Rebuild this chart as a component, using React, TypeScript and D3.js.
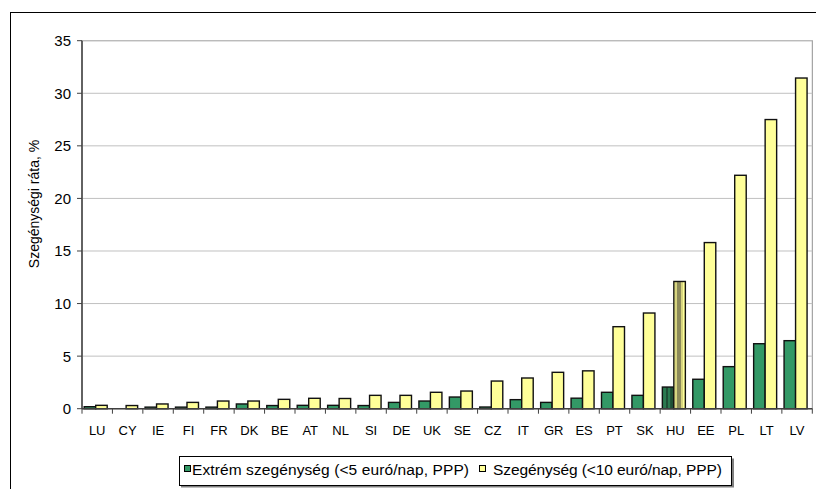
import React from "react";
import * as d3 from "d3";

const countries = ["LU","CY","IE","FI","FR","DK","BE","AT","NL","SI","DE","UK","SE","CZ","IT","GR","ES","PT","SK","HU","EE","PL","LT","LV"];
const extreme = [0.19,0,0.15,0.15,0.15,0.45,0.3,0.32,0.32,0.3,0.6,0.73,1.11,0.16,0.86,0.6,1.0,1.56,1.27,2.06,2.8,4.0,6.18,6.47];
const poverty = [0.32,0.3,0.45,0.6,0.73,0.73,0.89,0.99,0.97,1.27,1.27,1.56,1.68,2.63,2.92,3.46,3.6,7.8,9.1,12.1,15.8,22.2,27.5,31.45];
const yTicks = [0,5,10,15,20,25,30,35];
const seriesNames = ["Extrém szegénység (<5 euró/nap, PPP)", "Szegénység (<10 euró/nap, PPP)"];
const highlight = "HU";

const W = 816, H = 489;
const plot = { left: 82, right: 812.3, top: 40.7, bottom: 408.7 };
const font = "Arial, 'Liberation Sans', sans-serif";
const green = "#339966";
const yellow = "#ffff99";

export default function App() {
  const x = d3.scaleBand<string>().domain(countries).range([plot.left, plot.right]).padding(0);
  const sub = d3.scaleBand<string>().domain(["e", "p"]).range([2.2, 25.2]).padding(0);
  const y = d3.scaleLinear().domain([0, 35]).range([plot.bottom, plot.top]);
  const bw = x.bandwidth();

  return (
    <div style={{ position: "absolute", left: 0, top: 0 }}>
      <svg width={W} height={H} style={{ display: "block", fontFamily: font }}>
        <defs>
          <linearGradient id="huY" x1="0" x2="1" y1="0" y2="0">
            <stop offset="0" stopColor="#ffff99" />
            <stop offset="0.12" stopColor="#ffff99" />
            <stop offset="0.13" stopColor="#d8d680" />
            <stop offset="0.3" stopColor="#d8d680" />
            <stop offset="0.31" stopColor="#8c8a5a" />
            <stop offset="0.62" stopColor="#8c8a5a" />
            <stop offset="0.63" stopColor="#d8d680" />
            <stop offset="0.8" stopColor="#d8d680" />
            <stop offset="0.81" stopColor="#ffff99" />
            <stop offset="1" stopColor="#ffff99" />
          </linearGradient>
          <linearGradient id="huG" x1="0" x2="1" y1="0" y2="0">
            <stop offset="0" stopColor="#2b7a50" />
            <stop offset="0.3" stopColor="#2b7a50" />
            <stop offset="0.31" stopColor="#1e4f36" />
            <stop offset="0.5" stopColor="#1e4f36" />
            <stop offset="0.51" stopColor="#2b7a50" />
            <stop offset="0.7" stopColor="#2b7a50" />
            <stop offset="0.71" stopColor="#1e4f36" />
            <stop offset="1" stopColor="#1e4f36" />
          </linearGradient>
        </defs>
        <rect x={0} y={0} width={W} height={H} fill="#fff" />
        <rect x={10.5} y={12.5} width={830} height={520} fill="none" stroke="#000" strokeWidth={1} />
        <rect x={plot.left} y={plot.top} width={plot.right - plot.left} height={plot.bottom - plot.top} fill="none" stroke="#909090" strokeWidth={1} />
        {yTicks.filter(t => t > 0).map(t => (
          <line key={t} x1={plot.left} x2={plot.right} y1={y(t)} y2={y(t)} stroke="#c0c0c0" strokeWidth={1} />
        ))}
        {yTicks.map(t => (
          <g key={t}>
            <line x1={plot.left - 5} x2={plot.left} y1={y(t)} y2={y(t)} stroke="#404040" strokeWidth={1} />
            <text x={71} y={y(t)} dy="0.36em" textAnchor="end" fontSize={15} fill="#000">{t}</text>
          </g>
        ))}
        {countries.map((c, i) => {
          const x0 = x(c)!;
          const isH = c === highlight;
          return (
            <g key={c}>
              {extreme[i] > 0 && (
                <rect x={x0 + sub("e")!} y={y(extreme[i])} width={sub.bandwidth()} height={y(0) - y(extreme[i])}
                  fill={isH ? "url(#huG)" : green} stroke="#111" strokeWidth={1.4} />
              )}
              <rect x={x0 + sub("p")!} y={y(poverty[i])} width={sub.bandwidth()} height={y(0) - y(poverty[i])}
                fill={isH ? "url(#huY)" : yellow} stroke="#111" strokeWidth={1.4} />
            </g>
          );
        })}
        <line x1={plot.left} x2={plot.left} y1={plot.top} y2={plot.bottom} stroke="#404040" strokeWidth={1.5} />
        <line x1={plot.left} x2={plot.right} y1={plot.bottom} y2={plot.bottom} stroke="#404040" strokeWidth={1.5} />
        {countries.map(c => (
          <line key={"t" + c} x1={x(c)!} x2={x(c)!} y1={plot.bottom} y2={plot.bottom + 5} stroke="#404040" strokeWidth={1} />
        ))}
        <line x1={plot.right} x2={plot.right} y1={plot.bottom} y2={plot.bottom + 5} stroke="#404040" strokeWidth={1} />
        {countries.map(c => (
          <text key={"l" + c} x={x(c)! + bw / 2} y={434.5} textAnchor="middle" fontSize={13} fill="#000">{c}</text>
        ))}
        <text transform={`translate(38.5,204) rotate(-90)`} textAnchor="middle" fontSize={14} fill="#000">Szegénységi ráta, %</text>
        <rect x={181} y={458.5} width={553} height={29} fill="#808080" />
        <rect x={179.5} y={456.5} width={552} height={29} fill="#fff" stroke="#000" strokeWidth={1} />
        <rect x={184.5} y={465.5} width={6} height={6} fill={green} stroke="#000" strokeWidth={1} />
        <text x={192} y={475} fontSize={15.5} textLength={277} lengthAdjust="spacing" fill="#000">{seriesNames[0]}</text>
        <rect x={479.5} y={465.5} width={6} height={6} fill={yellow} stroke="#000" strokeWidth={1} />
        <text x={493} y={475} fontSize={15.5} textLength={229} lengthAdjust="spacing" fill="#000">{seriesNames[1]}</text>
      </svg>
    </div>
  );
}
